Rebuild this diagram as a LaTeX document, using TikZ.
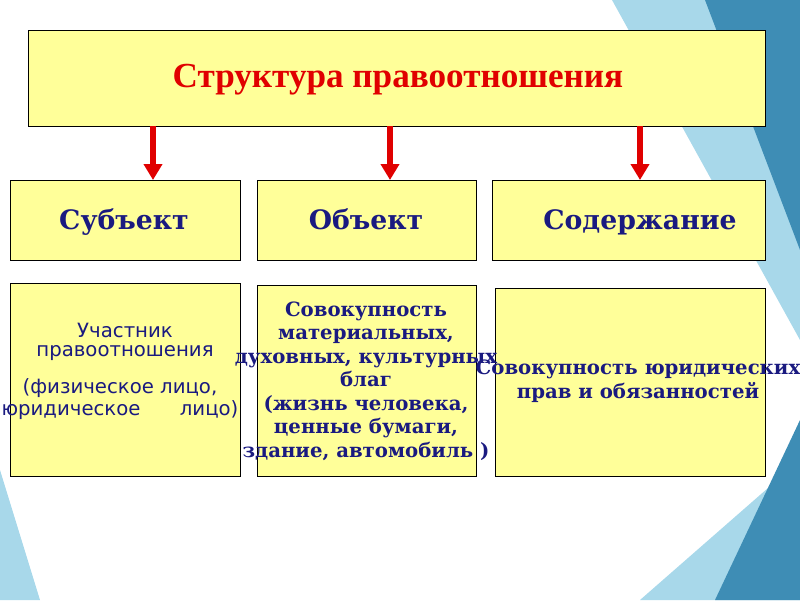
\documentclass[tikz,border=0pt]{standalone}
\usepackage{fontspec}
\setmainfont{DejaVu Serif}
\newfontfamily\titlefont{Liberation Serif}
\newfontfamily\plainsans{DejaVu Sans}
\usetikzlibrary{arrows.meta, positioning}
\definecolor{boxfill}{HTML}{FFFF99}
\definecolor{navy}{HTML}{1A1A80}
\definecolor{arrowred}{HTML}{E00000}
\definecolor{lightsea}{HTML}{A8D8EA}
\definecolor{deepsea}{HTML}{3E8DB5}
\tikzset{
    ybox/.style={draw, fill=boxfill, thin},
    headtxt/.style={font=\bfseries\fontsize{19}{22}\selectfont, text=navy, anchor=base},
    bodytxt/.style={font=\bfseries\fontsize{14}{16.7}\selectfont, text=navy, align=center},
    redArrow/.style={-{Triangle[length=4mm, width=4.5mm]}, line width=1.6mm, draw=arrowred},
}
\begin{document}
\begin{tikzpicture}[x=0.025cm, y=-0.025cm]
    \useasboundingbox (0,0) rectangle (800,600);

    % background
    \fill[lightsea] (612,0) -- (800,0) -- (800,340) -- cycle;
    \fill[deepsea] (705,0) -- (800,0) -- (800,250) -- cycle;
    \fill[lightsea] (640,600) -- (800,460) -- (800,600) -- cycle;
    \fill[deepsea] (715,600) -- (800,420) -- (800,600) -- cycle;
    \fill[lightsea] (0,470) -- (40,600) -- (0,600) -- cycle;

    % title
    \draw[ybox] (28,30) rectangle (765,126);
    \node[font=\titlefont\bfseries\fontsize{25}{28}\selectfont, text=arrowred] (title) at (398,80) {Структура правоотношения};

    % row 2
    \draw[ybox] (10,180) rectangle (240,260);
    \draw[ybox] (257,180) rectangle (476,260);
    \draw[ybox] (492,180) rectangle (765,260);
    \node[headtxt] (subj) at (124,229) {Субъект};
    \node[headtxt] (obj) at (366,229) {Объект};
    \node[headtxt] (cont) at (640,229) {Содержание};

    % arrows
    \coordinate (a1) at (153,126);
    \coordinate (a2) at (390,126);
    \coordinate (a3) at (640,126);
    \coordinate (b1) at (153,180);
    \coordinate (b2) at (390,180);
    \coordinate (b3) at (640,180);
    \foreach \i in {1,2,3}
        \draw[redArrow] (a\i) -- (b\i);

    % row 3
    \draw[ybox] (10,283) rectangle (240,476);
    \draw[ybox] (257,285) rectangle (476,476);
    \draw[ybox] (495,288) rectangle (765,476);
    \node[font=\plainsans\fontsize{14}{13.5}\selectfont, text=navy, align=center] (subjA) at (125,342) {Участник\\правоотношения};
    \node[font=\plainsans\fontsize{14}{15.5}\selectfont, text=navy, align=center] (subjB) at (120,399) {(физическое лицо,\\юридическое\hspace{2em}лицо)};
    \node[bodytxt] (objtxt) at (366,381) {Совокупность\\материальных,\\духовных, культурных\\благ\\(жизнь человека,\\ценные бумаги,\\здание, автомобиль )};
    \node[bodytxt] (conttxt) at (638,381) {Совокупность юридических\\прав и обязанностей};
\end{tikzpicture}
\end{document}
